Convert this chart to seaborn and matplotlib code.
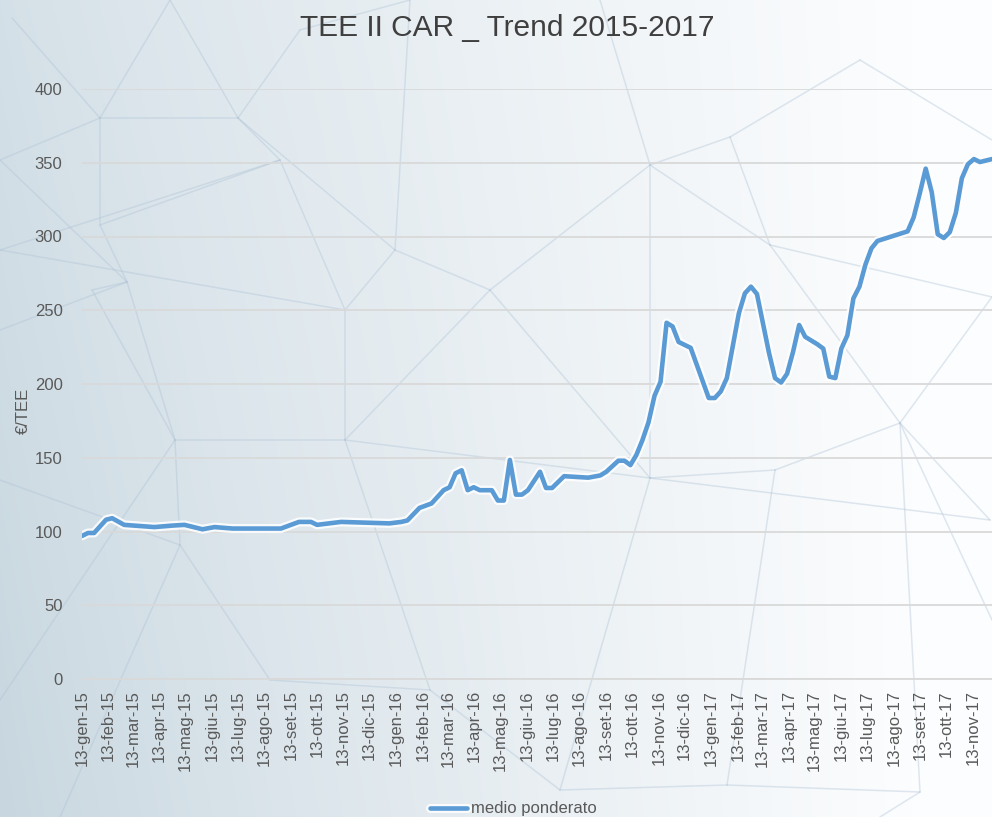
import numpy as np
import pandas as pd
import matplotlib
matplotlib.use("Agg")
import matplotlib.pyplot as plt
import matplotlib.patheffects as pe
import seaborn as sns

# Weekly weighted-average price of TEE II CAR certificates (EUR per TEE)
date_sessioni = [
    "2015-01-13", "2015-01-20", "2015-01-27", "2015-02-10", "2015-02-17", "2015-03-03",
    "2015-04-07", "2015-04-28", "2015-05-12", "2015-06-02", "2015-06-16", "2015-07-07",
    "2015-09-01", "2015-09-22", "2015-10-06", "2015-10-13", "2015-11-10", "2016-01-05",
    "2016-01-19", "2016-01-26", "2016-02-09", "2016-02-23", "2016-03-08", "2016-03-15",
    "2016-03-22", "2016-03-29", "2016-04-05", "2016-04-12", "2016-04-19", "2016-05-03",
    "2016-05-10", "2016-05-17", "2016-05-24", "2016-05-31", "2016-06-07", "2016-06-14",
    "2016-06-28", "2016-07-05", "2016-07-12", "2016-07-26", "2016-08-23", "2016-09-06",
    "2016-09-13", "2016-09-27", "2016-10-04", "2016-10-11", "2016-10-18", "2016-10-25",
    "2016-11-01", "2016-11-08", "2016-11-15", "2016-11-22", "2016-11-29", "2016-12-06",
    "2016-12-20", "2017-01-10", "2017-01-17", "2017-01-24", "2017-01-31", "2017-02-14",
    "2017-02-21", "2017-02-28", "2017-03-07", "2017-03-14", "2017-03-21", "2017-03-28",
    "2017-04-04", "2017-04-11", "2017-04-18", "2017-04-25", "2017-05-02", "2017-05-16",
    "2017-05-23", "2017-05-30", "2017-06-06", "2017-06-13", "2017-06-20", "2017-06-27",
    "2017-07-04", "2017-07-11", "2017-07-18", "2017-07-25", "2017-08-29", "2017-09-05",
    "2017-09-12", "2017-09-19", "2017-09-26", "2017-10-03", "2017-10-10", "2017-10-17",
    "2017-10-24", "2017-10-31", "2017-11-07", "2017-11-14", "2017-11-21", "2017-11-28",
    "2017-12-05",
]
prezzo_medio = [
    97, 99, 99, 108, 109, 104.5,
    103, 104, 104.5, 101.5, 103, 102,
    102, 106.5, 106.5, 104.5, 106.5, 105.5,
    106.5, 107.5, 116, 119, 128, 130,
    139.5, 141.5, 128, 130, 128, 128,
    121, 121, 148.5, 125, 125, 128,
    140.5, 129.5, 129.5, 137.5, 136.5, 138,
    140.5, 148, 148, 145, 152, 162,
    174, 192, 201.5, 241.5, 239, 228.5,
    224.5, 190.5, 190.5, 195, 204, 248,
    261.5, 266, 261, 241, 221, 204,
    201, 207, 222, 240, 232, 227,
    224, 205, 204, 224, 233, 258,
    266, 281, 292, 297, 303.5, 313,
    329, 346, 330, 301.5, 299, 303,
    316, 339.5, 349, 352.5, 350.5, 351.5,
    352.5,
]
mesi = ["gen", "feb", "mar", "apr", "mag", "giu", "lug", "ago", "set", "ott", "nov", "dic"]
y_ticks = [0, 50, 100, 150, 200, 250, 300, 350, 400]
titolo = "TEE II CAR _ Trend 2015-2017"
etichetta_y = "€/TEE"
etichetta_serie = "medio ponderato"

sns.set_style("white")
plt.rcParams["font.family"] = ["Liberation Sans", "DejaVu Sans"]

W, H = 992, 817
fig = plt.figure(figsize=(W / 100, H / 100), dpi=100)

# Background: soft blue-grey to white gradient with a faint polygon network
bg = fig.add_axes([0, 0, 1, 1], zorder=-5)
xx = np.linspace(0, 1, W)[None, :]
yy = np.linspace(0, 1, H)[:, None]
t = np.clip(xx / 0.92, 0, 1) ** 0.85
left_top = np.array([212, 224, 231]) / 255
left_bot = np.array([199, 214, 223]) / 255
right = np.array([252, 253, 254]) / 255
left = left_top[None, None, :] * (1 - yy[..., None]) + left_bot[None, None, :] * yy[..., None]
img = left * (1 - t[..., None]) + right[None, None, :] * t[..., None]
bg.imshow(img, extent=[0, W, H, 0], aspect="auto", interpolation="bilinear")

nodes = {
    "a": (12, 18), "b": (100, 118), "c": (100, 225), "d": (127, 282), "e": (238, 118),
    "f": (280, 160), "g": (175, 440), "h": (92, 290), "i": (180, 545), "j": (345, 310),
    "k": (345, 440), "l": (395, 250), "m": (490, 290), "n": (650, 165), "o": (730, 137),
    "p": (650, 478), "q": (560, 790), "r": (727, 785), "s": (775, 470), "t": (900, 423),
    "u": (992, 297), "v": (920, 792), "w": (770, 245), "x": (430, 690), "y": (0, 160),
    "z": (0, 480), "aa": (300, 30), "ab": (410, 0), "ac": (992, 140), "ad": (860, 60),
    "ae": (992, 620), "af": (600, 0), "ag": (0, 700), "ah": (270, 680), "ai": (0, 250),
    "aj": (0, 330), "ak": (990, 520), "al": (170, 0), "am": (880, 817), "an": (60, 817),
}
edges = [
    ("a", "b"), ("b", "c"), ("c", "d"), ("b", "e"), ("e", "f"), ("y", "d"), ("d", "h"),
    ("h", "g"), ("d", "g"), ("g", "i"), ("i", "z"), ("f", "j"), ("j", "l"), ("l", "e"),
    ("j", "k"), ("k", "g"), ("k", "p"), ("m", "n"), ("m", "l"), ("n", "o"), ("n", "w"),
    ("w", "t"), ("o", "ad"), ("ad", "ac"), ("n", "p"), ("p", "s"), ("s", "t"), ("t", "u"),
    ("t", "ae"), ("s", "r"), ("r", "q"), ("q", "x"), ("x", "k"), ("r", "v"), ("v", "t"),
    ("p", "q"), ("i", "ah"), ("ah", "x"), ("g", "ag"), ("aa", "e"), ("aa", "ab"),
    ("ab", "l"), ("af", "n"), ("o", "w"), ("w", "u"), ("ai", "j"), ("aj", "d"), ("ai", "f"),
    ("t", "ak"), ("p", "ak"), ("al", "b"), ("al", "e"), ("v", "am"), ("i", "an"),
    ("m", "p"), ("c", "f"), ("y", "b"), ("k", "m"),
]
for a, b in edges:
    (x0, y0), (x1, y1) = nodes[a], nodes[b]
    bg.plot([x0, x1], [y0, y1], color=(0.68, 0.76, 0.84), alpha=0.38, lw=1.1)
bg.set_xlim(0, W)
bg.set_ylim(H, 0)
bg.axis("off")

# Main plot area
ax = fig.add_axes([82 / W, 1 - 679 / H, 1 - 82 / W, (679 - 89) / H])
ax.set_facecolor("none")

df = pd.DataFrame({"data": pd.to_datetime(date_sessioni), "valore": prezzo_medio})
sns.lineplot(data=df, x="data", y="valore", ax=ax, color="#5B9BD5", lw=3.3,
             label=etichetta_serie, zorder=5)
line = ax.lines[0]
line.set_solid_joinstyle("round")
line.set_solid_capstyle("round")
line.set_path_effects([pe.Stroke(linewidth=6.5, foreground="white", alpha=0.85), pe.Normal()])

ax.set_ylim(0, 400)
ax.set_yticks(y_ticks)
ax.set_xlim(pd.Timestamp("2015-01-13"), pd.Timestamp("2017-12-05"))
tick_dates = pd.date_range("2015-01-13", "2017-11-13", freq=pd.DateOffset(months=1))
ax.set_xticks(tick_dates)
ax.set_xticklabels([f"13-{mesi[d.month - 1]}-{d.strftime('%y')}" for d in tick_dates],
                   rotation=90, fontsize=12, color="#595959")
ax.tick_params(axis="x", length=5, width=1, color="#d9d9d9", pad=3)
ax.tick_params(axis="y", length=0, pad=14, labelsize=12, labelcolor="#595959")

ax.yaxis.grid(True, color="#d9d9d9", lw=1.3)
ax.xaxis.grid(False)
for side in ["top", "right", "left"]:
    ax.spines[side].set_visible(False)
ax.spines["bottom"].set_color("#d9d9d9")
ax.spines["bottom"].set_linewidth(1.3)

ax.set_xlabel("")
ax.set_ylabel(etichetta_y, fontsize=12, color="#595959")
ax.yaxis.set_label_coords(-0.056, 0.455)

handles, labels = ax.get_legend_handles_labels()
ax.get_legend().remove()
fig.legend(handles, labels, loc="center left", bbox_to_anchor=(430 / W, 1 - 809 / H),
           frameon=False, fontsize=12, handlelength=2.2, handletextpad=0.25,
           borderpad=0, borderaxespad=0, labelcolor="#595959")

fig.text(507 / W, 1 - 28 / H, titolo, ha="center", va="center", fontsize=21.5, color="#3f3f3f")

fig.savefig("out.png", dpi=100)
